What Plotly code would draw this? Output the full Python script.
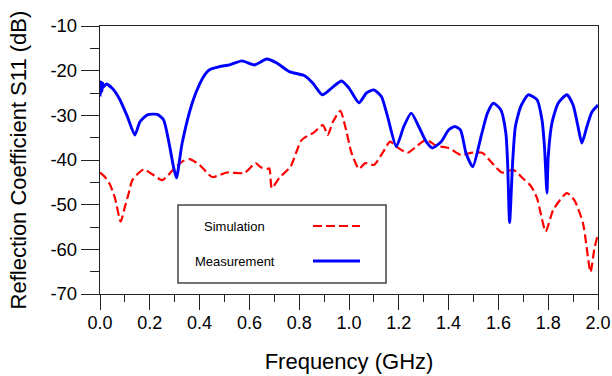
import plotly.graph_objects as go

# ---- data ----
sim_f = [0.0, 0.02, 0.04, 0.06, 0.083, 0.10, 0.115, 0.13, 0.175, 0.21, 0.25, 0.30, 0.335, 0.36,
         0.40, 0.45, 0.51, 0.58, 0.625, 0.645, 0.67, 0.68, 0.69, 0.72, 0.765, 0.81, 0.86, 0.895,
         0.915, 0.935, 0.965, 0.985, 1.01, 1.04, 1.065, 1.10, 1.135, 1.165, 1.19, 1.235, 1.27,
         1.31, 1.35, 1.40, 1.45, 1.49, 1.535, 1.575, 1.615, 1.66, 1.70, 1.73, 1.755, 1.79, 1.82,
         1.875, 1.905, 1.94, 1.97, 1.985, 2.0]
sim_db = [-42.8, -43.8, -45.5, -48.5, -53.8, -50.5, -47.5, -44.5, -42.1, -43.2, -44.5, -41.8, -40.2, -39.8,
          -41.1, -43.8, -42.8, -42.9, -40.7, -41.6, -42.0, -41.9, -46.3, -44.0, -41.5, -35.5, -33.8, -32.2,
          -34.4, -31.5, -29.0, -32.5, -38.4, -42.0, -40.7, -41.1, -38.4, -35.9, -37.0, -38.4, -37.0,
          -35.5, -36.8, -37.3, -38.9, -38.4, -38.4, -40.7, -42.8, -42.2, -44.2, -45.8, -48.5, -56.0, -51.2,
          -47.4, -49.0, -54.2, -65.1, -60.0, -56.5]

meas_f = [0.0, 0.002, 0.004, 0.006, 0.008, 0.011, 0.015, 0.025, 0.05, 0.08, 0.11, 0.14, 0.16, 0.19,
          0.23, 0.255, 0.28, 0.295, 0.307, 0.33, 0.37, 0.40, 0.425, 0.44, 0.48, 0.52, 0.57, 0.62,
          0.67, 0.71, 0.76, 0.82, 0.855, 0.893, 0.93, 0.97, 1.00, 1.04, 1.07, 1.10, 1.13, 1.155,
          1.19, 1.22, 1.25, 1.28, 1.31, 1.335, 1.37, 1.40, 1.425, 1.448, 1.47, 1.497, 1.53, 1.556,
          1.58, 1.61, 1.63, 1.637, 1.645, 1.657, 1.668, 1.69, 1.72, 1.755, 1.775, 1.785, 1.795,
          1.80, 1.815, 1.84, 1.875, 1.90, 1.92, 1.935, 1.955, 1.975, 2.0]
meas_db = [-25.8, -22.5, -25.0, -22.6, -24.6, -22.8, -23.6, -23.0, -24.0, -26.5, -30.3, -34.4, -31.5, -29.9,
           -29.8, -31.0, -37.0, -41.5, -44.0, -36.2, -27.3, -23.0, -20.6, -19.8, -19.1, -18.7, -17.8, -18.7,
           -17.4, -18.3, -20.2, -21.1, -22.8, -25.4, -23.9, -22.3, -23.9, -27.2, -25.0, -24.3, -25.8, -30.3,
           -37.0, -32.5, -29.5, -32.5, -35.9, -37.3, -35.9, -33.3, -32.5, -33.3, -38.5, -41.5, -34.8, -29.5,
           -27.3, -28.8, -34.0, -40.7, -54.0, -40.7, -32.6, -28.0, -25.4, -26.5, -31.0, -37.0, -47.4,
           -39.3, -31.7, -27.3, -25.4, -27.7, -32.6, -36.2, -32.6, -29.3, -27.7]

x_ticks = [0.0, 0.2, 0.4, 0.6, 0.8, 1.0, 1.2, 1.4, 1.6, 1.8, 2.0]
x_labels = ["0.0", "0.2", "0.4", "0.6", "0.8", "1.0", "1.2", "1.4", "1.6", "1.8", "2.0"]
y_ticks = [-70, -60, -50, -40, -30, -20, -10]
y_labels = ["-70", "-60", "-50", "-40", "-30", "-20", "-10"]
series_names = ["Simulation", "Measurement"]
x_title = "Frequency (GHz)"
y_title = "Reflection Coefficient S11 (dB)"

FONT = "Liberation Sans, Arial, sans-serif"

fig = go.Figure()
fig.add_trace(go.Scatter(x=sim_f, y=sim_db, mode="lines", name=series_names[0],
                         line=dict(color="#ff0000", width=2.2, dash="9px,4px", shape="spline", smoothing=0.6),
                         showlegend=False))
fig.add_trace(go.Scatter(x=meas_f, y=meas_db, mode="lines", name=series_names[1],
                         line=dict(color="#0000ff", width=2.9, shape="spline", smoothing=0.6),
                         showlegend=False))

fig.update_layout(
    width=612, height=376,
    margin=dict(l=100, r=14, t=26, b=82),
    paper_bgcolor="white", plot_bgcolor="white",
    font=dict(family=FONT, color="black"),
)
fig.update_xaxes(
    range=[0, 2.0], tickvals=x_ticks, ticktext=x_labels, automargin=False,
    showgrid=False, zeroline=False,
    showline=True, linecolor="#222", linewidth=1.3, mirror=True,
    ticks="outside", ticklen=15, tickwidth=1.3, tickcolor="#222",
    minor=dict(dtick=0.1, ticks="outside", ticklen=7, tickwidth=1.3, tickcolor="#222", showgrid=False),
    tickfont=dict(size=18), ticklabelstandoff=-3,
    title=dict(text=x_title, font=dict(size=22), standoff=21),
)
fig.update_yaxes(
    range=[-70, -10], tickvals=y_ticks, ticktext=y_labels, automargin=False,
    showgrid=False, zeroline=False,
    showline=True, linecolor="#222", linewidth=1.3, mirror=True,
    ticks="outside", ticklen=18, tickwidth=1.3, tickcolor="#222",
    minor=dict(dtick=5, ticks="outside", ticklen=9, tickwidth=1.3, tickcolor="#222", showgrid=False),
    tickfont=dict(size=18.5),
)
# y-axis title placed as a rotated annotation to sit where the reference has it
fig.add_annotation(xref="paper", yref="paper", x=-0.1637, y=0.5, text=y_title, textangle=-90,
                   showarrow=False, font=dict(size=22, family=FONT), xanchor="center", yanchor="middle")

# legend box drawn manually (text left, line sample right)
fig.add_shape(type="rect", xref="paper", yref="paper", x0=0.1566, x1=0.5743, y0=0.041, y1=0.332,
              line=dict(color="#444", width=1.5), fillcolor="white", layer="above")
fig.add_shape(type="line", xref="paper", yref="paper", x0=0.4277, x1=0.5221, y0=0.2537, y1=0.2537,
              line=dict(color="#ff0000", width=2.2, dash="9px,4px"))
fig.add_shape(type="line", xref="paper", yref="paper", x0=0.4277, x1=0.5221, y0=0.1231, y1=0.1231,
              line=dict(color="#0000ff", width=2.9))
fig.add_annotation(xref="paper", yref="paper", x=0.2701, y=0.2537, text=series_names[0],
                   showarrow=False, font=dict(size=13, family=FONT), xanchor="center", yanchor="middle")
fig.add_annotation(xref="paper", yref="paper", x=0.2701, y=0.1231, text=series_names[1],
                   showarrow=False, font=dict(size=13, family=FONT), xanchor="center", yanchor="middle")

fig.write_html("out.html", config={"displayModeBar": False},
               post_script="document.body.style.margin='0';")
